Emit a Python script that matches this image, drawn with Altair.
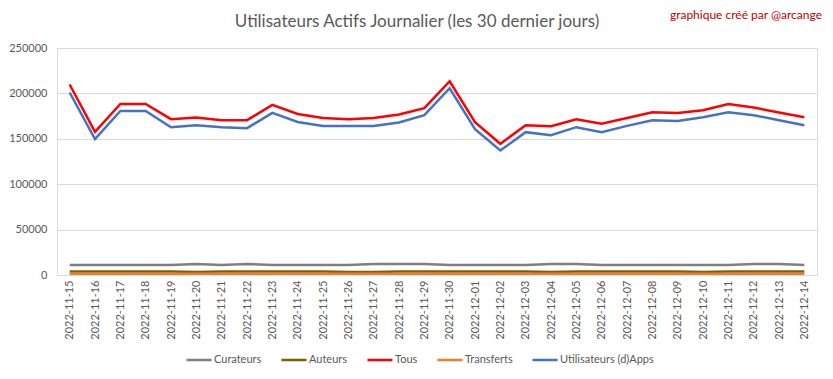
import altair as alt
import pandas as pd

dates = ["2022-11-15", "2022-11-16", "2022-11-17", "2022-11-18", "2022-11-19", "2022-11-20",
         "2022-11-21", "2022-11-22", "2022-11-23", "2022-11-24", "2022-11-25", "2022-11-26",
         "2022-11-27", "2022-11-28", "2022-11-29", "2022-11-30", "2022-12-01", "2022-12-02",
         "2022-12-03", "2022-12-04", "2022-12-05", "2022-12-06", "2022-12-07", "2022-12-08",
         "2022-12-09", "2022-12-10", "2022-12-11", "2022-12-12", "2022-12-13", "2022-12-14"]

curateurs = [11000, 11000, 11000, 11000, 11000, 12200, 11000, 12200, 11000, 11000,
             11000, 11000, 12200, 12200, 12200, 11000, 11000, 11000, 11000, 12200,
             12200, 11000, 11000, 11000, 11000, 11000, 11000, 12200, 12200, 11000]
auteurs = [3800, 3800, 3800, 3800, 3800, 3200, 3800, 3800, 3800, 3800,
           3800, 3200, 3200, 3800, 3800, 3800, 3800, 3800, 3800, 3200,
           3800, 3800, 3800, 3800, 3800, 3200, 3800, 3800, 3800, 3800]
tous = [209800, 157600, 188400, 188400, 171600, 173400, 170500, 170500, 187300, 177400,
        173000, 171600, 173000, 176700, 183700, 213400, 168300, 144500, 165000, 163900,
        171600, 166500, 173000, 179300, 178500, 181500, 188400, 184400, 179000, 173800]
transferts = [1500, 1500, 1500, 1500, 1500, 1400, 1500, 1500, 1500, 1500,
              1500, 1400, 1400, 1500, 1500, 1500, 1500, 1500, 1500, 1400,
              1500, 1500, 1500, 1500, 1500, 1400, 1500, 1500, 1500, 1500]
utilisateurs = [201000, 149600, 180700, 180700, 162800, 165000, 162800, 161700, 178500, 168600,
                164200, 164200, 164200, 168000, 176000, 205700, 160600, 137100, 157300, 154000,
                162800, 157300, 164200, 170500, 169700, 173800, 179300, 176000, 170500, 165000]

series_names = ["Curateurs", "Auteurs", "Tous", "Transferts", "Utilisateurs (d)Apps"]
series_values = [curateurs, auteurs, tous, transferts, utilisateurs]
series_colors = ["#7F7F7F", "#7F6000", "#FF0000", "#ED7D31", "#4472C4"]
y_ticks = [0, 50000, 100000, 150000, 200000, 250000]

title_text = "Utilisateurs Actifs Journalier (les 30 dernier jours)"
credit_text = "graphique créé par @arcange"

rows = []
for si, (name, vals) in enumerate(zip(series_names, series_values)):
    for d, v in zip(dates, vals):
        rows.append({"date": d, "serie": name, "valeur": v, "ordre": si})
df = pd.DataFrame(rows)

FONT = "Lato"
GRAY = "#595959"

lines = alt.Chart(df).mark_line(strokeWidth=2.5).encode(
    x=alt.X("date:O", sort=dates, title=None,
            scale=alt.Scale(padding=0.5),
            axis=alt.Axis(labelAngle=-90, ticks=False, labelPadding=5,
                          domainColor="#D9D9D9", labelColor=GRAY, labelFontSize=11,
                          labelFont=FONT, grid=False)),
    y=alt.Y("valeur:Q", title=None,
            scale=alt.Scale(domain=[0, 250000]),
            axis=alt.Axis(values=y_ticks, format="d", ticks=False, domain=False,
                          labelPadding=10, labelColor=GRAY, labelFontSize=11,
                          labelFont=FONT, gridColor="#D9D9D9", gridWidth=1)),
    color=alt.Color("serie:N", sort=series_names,
                    scale=alt.Scale(domain=series_names, range=series_colors),
                    legend=alt.Legend(title=None, orient="none", direction="horizontal",
                                      legendX=128, legendY=298, symbolType="stroke",
                                      symbolSize=625, symbolStrokeWidth=2.5,
                                      labelFont=FONT, labelFontSize=11, labelColor=GRAY,
                                      labelOffset=1, columnPadding=14, padding=0)),
    order=alt.Order("ordre:Q"),
)

credit = alt.Chart(pd.DataFrame({"t": [credit_text]})).mark_text(
    align="right", baseline="middle", font=FONT, fontSize=12, color="#C00000"
).encode(x=alt.value(765), y=alt.value(-33), text="t:N")

title = alt.Chart(pd.DataFrame({"t": [title_text]})).mark_text(
    align="center", baseline="middle", font=FONT, fontSize=17, color=GRAY
).encode(x=alt.value(360), y=alt.value(-26), text="t:N")

chart = alt.layer(lines, credit, title).properties(
    width=760, height=227,
    padding={"left": 49, "top": 40, "right": 8, "bottom": 100},
    autosize=alt.AutoSizeParams(type="none"),
).configure_view(stroke=None).configure(background="white")

chart.save("out.html", embed_options={"renderer": "svg", "actions": False})
